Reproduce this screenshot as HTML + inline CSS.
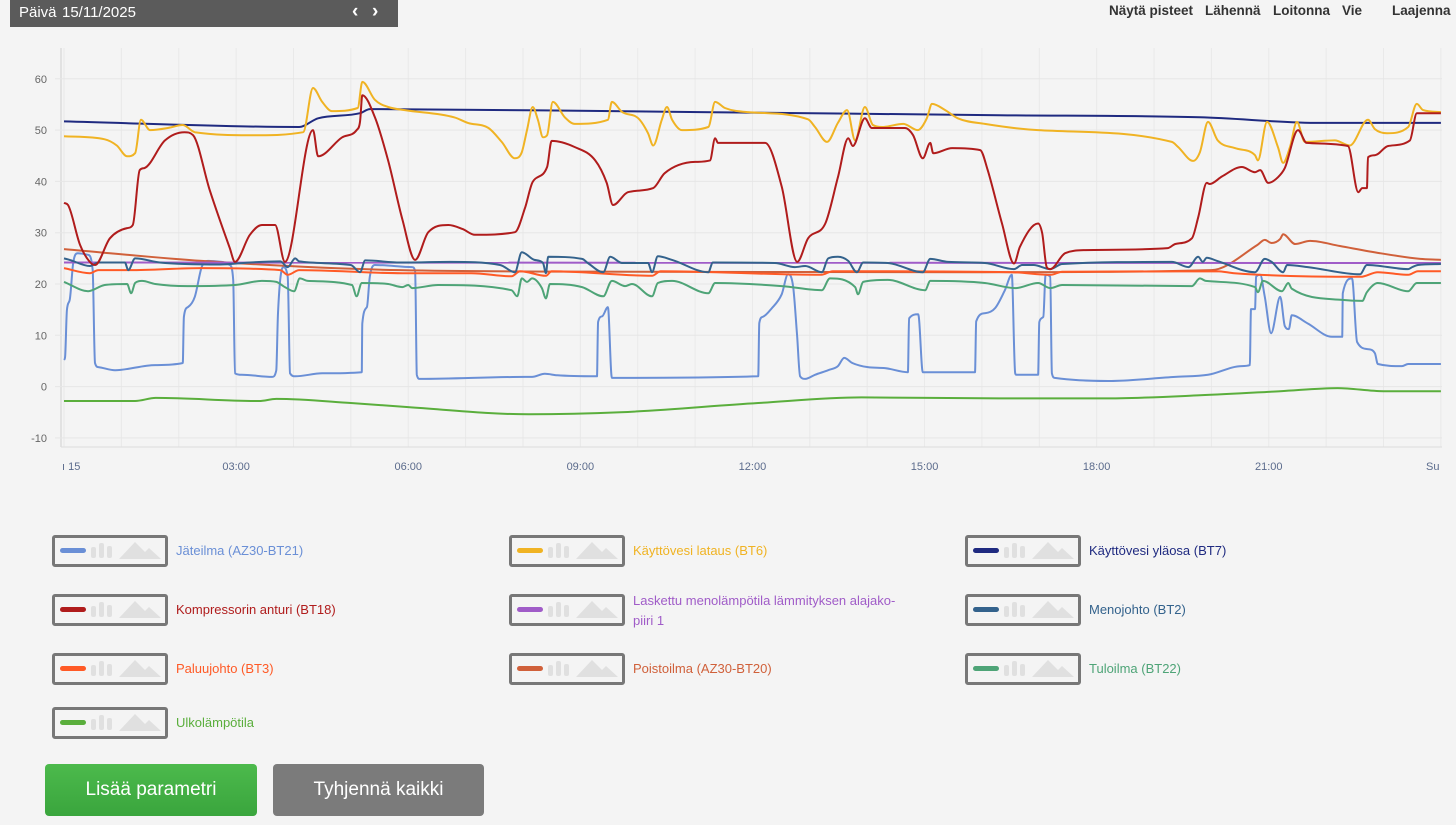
<!DOCTYPE html>
<html><head><meta charset="utf-8"><style>
body{margin:0;width:1456px;height:825px;background:#f4f4f4;font-family:"Liberation Sans",sans-serif;overflow:hidden;position:relative}
.topbar{position:absolute;left:10px;top:0;width:388px;height:27px;background:#5b5b5b;color:#fff;font-size:15px}
.tools span{position:absolute;top:3px;font-size:13.5px;color:#333;font-weight:bold}
.leg{position:absolute;height:32px}
.leg .box{position:absolute;left:0;top:0;width:110px;height:26px;border:3px solid #777;border-radius:3px}
.leg .ln{position:absolute;left:5px;top:10px;width:26px;height:5px;border-radius:3px}
.leg .lab{position:absolute;left:124px;top:6px;font-size:13px;line-height:20px;white-space:nowrap}
.btn{position:absolute;top:764px;height:52px;border-radius:4px;color:#fff;font-size:19px;text-align:center;line-height:52px}
</style></head><body>
<div class="topbar">
<span style="position:absolute;left:9px;top:4px">Päivä</span>
<span style="position:absolute;left:52px;top:4px">15/11/2025</span>
<span style="position:absolute;left:342px;top:1px;font-size:19px;font-weight:bold">‹</span>
<span style="position:absolute;left:362px;top:1px;font-size:19px;font-weight:bold">›</span>
</div>
<div class="tools">
<span style="left:1109px">Näytä pisteet</span>
<span style="left:1205px">Lähennä</span>
<span style="left:1273px">Loitonna</span>
<span style="left:1342px">Vie</span>
<span style="left:1392px">Laajenna</span>
</div>
<svg id="chart" width="1456" height="500" style="position:absolute;left:0;top:0"></svg>

<div id="legend"></div>
<div class="btn" style="left:45px;width:212px;background:linear-gradient(#4cba4c,#3aa53d)">Lisää parametri</div>
<div class="btn" style="left:273px;width:211px;background:#7b7b7b">Tyhjennä kaikki</div>

<script>
const yTicks=[60,50,40,30,20,10,0,-10];
const xTickHours=[3,6,9,12,15,18,21];
const xTickLabels=["03:00","06:00","09:00","12:00","15:00","18:00","21:00"];
const seriesNames=["Jäteilma (AZ30-BT21)","Käyttövesi lataus (BT6)","Käyttövesi yläosa (BT7)","Kompressorin anturi (BT18)","Laskettu menolämpötila lämmityksen alajako-piiri 1","Menojohto (BT2)","Paluujohto (BT3)","Poistoilma (AZ30-BT20)","Tuloilma (BT22)","Ulkolämpötila"];
const seriesColors=["#6a8fd6","#f0b323","#1f2a80","#b01c1c","#a05cc8","#33628c","#ff5a26","#d0603a","#4ea477","#5aae3c"];

const ulkoT=[0,1.24,1.6,3.4,3.7,5,6,8.1,9.7,12.1,13.9,16.3,18.1,19.8,21.2,22.2,23,24];
const ulkoV=[-2.8,-2.8,-2.2,-2.8,-2.4,-3.2,-4,-5.4,-5,-3.2,-2.1,-2.3,-2.3,-1.7,-0.9,-0.3,-0.9,-0.9];
const laskettuT=[0,24];
const laskettuV=[24.2,24.1];
const poistoT=[0,2.4,5.85,10,16,20,20.8,20.93,21.05,21.2,21.25,21.46,21.72,22.24,22.94,23.64,24];
const poistoV=[26.8,24.5,22.7,22.4,22.3,22.7,27.6,28.6,28,28.8,29.7,27.8,28.4,27.4,26,24.9,24.7];
const paluuT=[0,0.45,0.6,1.15,2.4,3.77,3.9,4.1,5.9,7.1,7.8,7.95,8.4,8.5,10.25,10.4,13.2,13.4,16.5,17.2,17.4,20.1,20.4,22.6,22.9,23.43,23.6,24];
const paluuV=[23.1,22.1,22.7,22.7,23.1,22.7,21.8,22.7,22.1,22.1,21.5,22.5,21.6,22.5,21.6,22.5,21.8,22.5,22.3,21.8,22.4,22.5,22.1,21.4,22.3,21.8,22.5,22.5];
const menoT=[0,0.1,0.45,0.6,1.06,1.12,1.24,1.67,2.72,3.24,3.77,3.9,4.03,4.1,5,5.16,5.25,5.86,6.73,7.6,7.86,7.98,8.2,8.35,8.4,8.44,9.03,9.13,9.4,9.52,9.73,10.18,10.25,10.35,10.6,11.23,11.31,12.39,12.74,12.92,13.21,13.32,13.49,13.67,13.82,13.93,14.36,14.97,15.1,15.41,16.05,16.56,16.7,16.9,17.19,17.4,19.31,19.6,19.77,19.85,19.92,20.1,20.76,20.93,21.05,21.25,21.32,21.68,22.59,22.71,23.43,23.5,23.6,24];
const menoV=[25,24.7,23.5,24.2,24.2,22.7,25,24.2,23.8,24.2,24.4,23.3,25,24.4,23.7,22.3,24.6,24.2,24.3,23.7,22.3,26.2,24.7,24.1,22.1,25.3,24.9,24.1,22.3,25.3,24.1,24.1,22.3,25.4,24.7,22.3,24.2,24.1,23.3,23.5,22.3,25,25.3,24.5,22.3,24.2,24.1,22.3,24.9,24.3,24.1,22.9,23.7,23.7,22.9,23.9,24.3,23.3,25.3,24.3,25.1,24.5,22.3,24.9,24.3,22.3,23.7,23.3,21.9,23.7,22.9,23.3,23.7,23.9];
const tuloT=[0,0.42,0.71,1.1,1.17,1.24,1.36,1.59,2.16,2.98,3.45,3.7,3.85,4.01,4.11,4.25,5.02,5.1,5.19,5.65,5.9,6.0,6.07,6.52,7.8,7.9,7.98,8.07,8.16,8.33,8.4,8.47,9.03,9.4,9.55,9.78,9.9,10.25,10.35,10.6,11.23,11.35,12.51,13.21,13.35,13.79,13.84,13.93,14.36,15.01,15.1,16.05,16.58,16.98,17.19,17.4,19.66,19.8,19.9,20.76,20.81,20.9,21.23,21.34,21.4,22.28,22.63,22.71,22.9,23.43,23.58,24];
const tuloV=[20.4,18.6,19.8,20,18.2,20.2,20.6,20,19.6,19.8,20.6,20.4,19.4,18.6,21.1,20.6,19.8,17.6,20.2,20,19.4,19.8,19.2,19.8,18.8,17.6,21.1,20.4,21.1,19.2,17.2,20,19.4,17.6,20.6,19.6,20,17.6,20.2,20.6,18.2,20.2,19.6,18.8,21.1,19.4,18,20.4,20.8,18.8,20.6,20.2,19.2,20.2,19.2,19.8,19.6,21.1,20.6,19.4,18.4,20.6,18.6,20.2,19.1,16.9,16.7,18.4,20.2,18.6,20.2,20.2];
const yläosaT=[0,4.1,4.43,5.16,5.33,11.1,16.3,19.8,21.9,24];
const yläosaV=[51.7,50.6,52.3,53.3,54.1,53.5,52.9,52.5,51.4,51.4];
const latausT=[0,0.71,0.92,1.1,1.24,1.34,1.5,1.81,2.07,2.28,3.33,4.17,4.34,4.5,4.67,5.12,5.2,5.42,5.65,5.94,6.8,7.04,7.4,7.63,7.86,7.98,8.07,8.17,8.26,8.35,8.42,8.52,8.73,8.9,9.48,9.55,9.73,10.01,10.18,10.27,10.42,10.51,10.6,10.77,11.23,11.35,11.52,11.92,12.97,13.09,13.3,13.49,13.65,13.79,13.96,14.1,14.26,14.63,14.88,15.04,15.13,15.36,15.58,16.05,16.98,19.31,19.42,19.68,19.8,19.94,20.11,20.41,20.76,20.81,20.97,21.16,21.25,21.37,21.49,21.63,22.15,22.41,22.73,22.85,23.06,23.43,23.58,23.69,24];
const latausV=[48.8,48.2,47,44.9,45.5,52,50,50.4,51,49.6,49,49.6,58.2,55.5,53.7,54.3,59.4,55.9,54.5,53.9,52.5,51.4,50.4,47.7,44.5,45.7,50,54.5,52,48.6,49,55.5,52.5,51.2,52,55.5,53.5,52.3,49.4,47,52,54.5,52,50,50.6,55.5,54.3,53.5,52.1,50.6,47.7,51.4,53.9,48,54.5,51,50.6,51.2,50,52.3,55.1,53.9,52.3,51.2,50,47.7,46.7,44,45.7,51.6,48,46.5,45.1,44.1,51.6,46.7,43.6,46.7,51.6,47.7,48,47,52,50.2,49.4,50.6,55.1,53.9,53.5];
const kompT=[0,0.07,0.28,0.45,0.54,0.8,1.1,1.2,1.32,1.4,1.76,2.1,2.25,2.54,2.89,2.98,3.24,3.45,3.68,3.85,4.34,4.43,4.85,5.1,5.16,5.2,5.42,5.65,5.9,6.12,6.35,6.7,6.95,7.16,7.86,8.04,8.17,8.42,8.5,8.9,9.26,9.46,9.57,9.83,10.27,10.47,11,11.26,11.35,11.4,12.22,12.51,12.78,12.97,13.27,13.49,13.67,13.75,13.96,14.08,14.66,14.8,14.97,15.1,15.15,15.48,15.97,16.1,16.35,16.56,16.66,16.98,17.05,17.13,17.19,17.45,17.8,19.24,19.37,19.66,19.77,19.92,19.97,20.19,20.53,20.76,20.85,20.99,21.16,21.28,21.51,21.66,22.38,22.56,22.63,22.71,22.73,22.85,23.08,23.46,23.58,24];
const kompV=[35.8,35.4,27.6,24.3,23.7,28.9,30.9,31.5,42.2,42.6,48,49.6,49,38.3,27,24.3,29.6,31.5,31.5,24.3,50,44.9,48.6,50,51.6,56.8,52.5,44.1,32.5,24.7,30.1,31.5,30.7,29.6,30.1,35,39.9,42.8,47.9,46.7,44.1,39.7,35.4,37.9,38.7,41.6,43.8,44.1,48.4,47.5,47.5,39,24.3,28.9,31.8,40.8,48.4,46.9,52.3,50.4,50.4,49,44.5,47.5,45.5,46.5,46.1,42.2,31.8,24,27.2,31.8,29.9,23.3,22.9,26,26.6,27,27.8,28.9,33,39.7,39.5,41,42.8,41.8,42.2,39.7,40.8,42.6,50,47.5,46.9,37.9,38.7,38.7,44.7,45.1,46.9,48,53.3,53.3];
const jateT=[0,0.02,0.05,0.1,0.16,0.24,0.42,0.5,0.54,0.6,0.89,1.59,2.07,2.09,2.16,2.28,2.4,2.51,2.75,2.89,2.95,2.98,3.1,3.63,3.7,3.73,3.82,3.9,3.94,4.03,4.5,5.19,5.2,5.28,5.33,5.42,6.07,6.12,6.15,6.2,8.04,8.16,8.38,8.6,9.29,9.31,9.38,9.48,9.55,12.1,12.12,12.18,12.34,12.51,12.62,12.71,12.78,12.83,12.92,13.09,13.32,13.49,13.6,13.74,14.01,14.31,14.71,14.73,14.89,14.97,15.88,15.9,16.05,16.23,16.4,16.52,16.58,16.6,16.98,17.0,17.07,17.11,17.19,17.22,17.27,18.2,19.37,19.94,20.53,20.67,20.69,20.76,20.78,20.85,20.93,21.04,21.2,21.28,21.35,21.4,21.68,22.1,22.28,22.29,22.45,22.54,22.73,22.85,22.9,23.32,23.43,24];
const jateV=[5.2,5.8,14.9,16.9,24.1,26,25.7,22.7,4.6,3.8,3.2,4.2,4.6,13.6,15.5,17.5,23.3,24.5,24.3,23.7,20.8,2.6,2.3,1.9,3.2,14.3,23.3,21.4,2.6,2,2.6,2.8,12.3,15.5,21.4,23.7,23.3,22.5,2.3,1.5,1.9,1.9,2.5,2.2,2,12.6,13.7,15.5,1.7,2,12.4,13.6,15.3,18,21.9,19.4,9.7,2,1.5,2.3,3.2,4,5.6,4.6,3.8,3.6,2.8,13.3,14.1,2.8,2.8,12.7,14.3,15.3,18.8,21.8,2.6,2.3,2.3,12.6,13.6,21.8,21.4,2.6,1.7,1.1,1.9,2.3,4,4.2,15.1,15.1,21.4,21.8,17.5,10.4,17.5,11.8,11.2,13.9,12.3,9.7,9.7,18.2,21.1,8.7,7.3,6.5,4.4,4,4.4,4.4];

const drawOrder=[[ulkoT,ulkoV,9],[jateT,jateV,0],[tuloT,tuloV,8],[poistoT,poistoV,7],[paluuT,paluuV,6],[laskettuT,laskettuV,4],[menoT,menoV,5],[yläosaT,yläosaV,2],[latausT,latausV,1],[kompT,kompV,3]];

const NS="http://www.w3.org/2000/svg";
const svg=document.getElementById('chart');
const X0=64,XW=57.37,Y0=386.6,YS=5.13;
function xs(h){return X0+h*XW}
function ys(v){return Y0-v*YS}
function mk(tag,attrs,parent){const e=document.createElementNS(NS,tag);for(const k in attrs)e.setAttribute(k,attrs[k]);(parent||svg).appendChild(e);return e}
function monotonePath(px,py){
  const n=px.length;if(n<3){return 'M'+px.map((x,i)=>x.toFixed(1)+','+py[i].toFixed(1)).join('L');}
  const d=[],m=new Array(n);
  for(let i=0;i<n-1;i++){const dx=px[i+1]-px[i];d.push(dx===0?0:(py[i+1]-py[i])/dx);}
  m[0]=d[0];m[n-1]=d[n-2];
  for(let i=1;i<n-1;i++){m[i]=(d[i-1]*d[i]<=0)?0:(d[i-1]+d[i])/2;}
  for(let i=0;i<n-1;i++){if(d[i]===0){m[i]=0;m[i+1]=0;continue;}const a=m[i]/d[i],b=m[i+1]/d[i],s=a*a+b*b;if(s>9){const t=3/Math.sqrt(s);m[i]=t*a*d[i];m[i+1]=t*b*d[i];}}
  let p='M'+px[0].toFixed(1)+','+py[0].toFixed(1);
  for(let i=0;i<n-1;i++){const dx=(px[i+1]-px[i])/3;
    p+='C'+(px[i]+dx).toFixed(1)+','+(py[i]+m[i]*dx).toFixed(1)+' '+(px[i+1]-dx).toFixed(1)+','+(py[i+1]-m[i+1]*dx).toFixed(1)+' '+px[i+1].toFixed(1)+','+py[i+1].toFixed(1);}
  return p;}
const grid=mk('g',{});


for(let h=0;h<=24;h++){const l=mk('line',{x1:xs(h),x2:xs(h),y1:48,y2:447,stroke:'#e9e9e9','stroke-width':1},grid);

}
mk('line',{x1:61,x2:61,y1:48,y2:447,stroke:'#e2e2e2','stroke-width':2},grid);
yTicks.forEach(v=>{const l=mk('line',{x1:55,x2:1442,y1:ys(v),y2:ys(v),stroke:'#e6e6e6','stroke-width':1},grid);


const t=mk('text',{x:47,y:ys(v)+4,'text-anchor':'end','font-size':11,fill:'#666'});t.textContent=v;

});
mk('line',{x1:61,x2:1442,y1:447,y2:447,stroke:'#ddd','stroke-width':1});
xTickHours.forEach((h,i)=>{const t=mk('text',{x:xs(h),y:470,'text-anchor':'middle','font-size':11,fill:'#5b6b8c'});t.textContent=xTickLabels[i];

});
const t0=mk('text',{x:62,y:470,'font-size':11,fill:'#5b6b8c'});t0.textContent='ı 15';


const t1=mk('text',{x:1426,y:470,'font-size':11,fill:'#5b6b8c'});t1.textContent='Su';


drawOrder.forEach(([T,V,ci])=>{
const p=mk('path',{d:monotonePath(T.map(xs),V.map(ys)),fill:'none',stroke:seriesColors[ci],'stroke-width':2,'stroke-linejoin':'round'});

});

const leg=document.getElementById('legend');
const colX=[52,509,965],rowY=[535,594,653,707];
seriesNames.forEach((n,i)=>{const d=document.createElement('div');d.className='leg';


d.style.left=colX[i%3]+'px';d.style.top=rowY[Math.floor(i/3)]+'px';
const lab=(i==4)?'Laskettu menolämpötila lämmityksen alajako-<br>piiri 1':n;
const top=(i==4)?-3:6;
d.innerHTML='<div class="box"><div class="ln" style="background:'+seriesColors[i]+'"></div>'+
'<svg width="110" height="26" style="position:absolute;left:0;top:0"><rect x="36" y="9" width="5" height="11" rx="2" fill="#e0e0e0"/><rect x="44" y="5" width="5" height="15" rx="2" fill="#e0e0e0"/><rect x="52" y="8" width="5" height="12" rx="2" fill="#e0e0e0"/><polygon points="64,21 80,4 90,14 94,10 106,21" fill="#e0e0e0"/></svg></div>'+
'<div class="lab" style="top:'+top+'px;color:'+seriesColors[i]+'">'+lab+'</div>';
leg.appendChild(d);});
</script>
</body></html>
